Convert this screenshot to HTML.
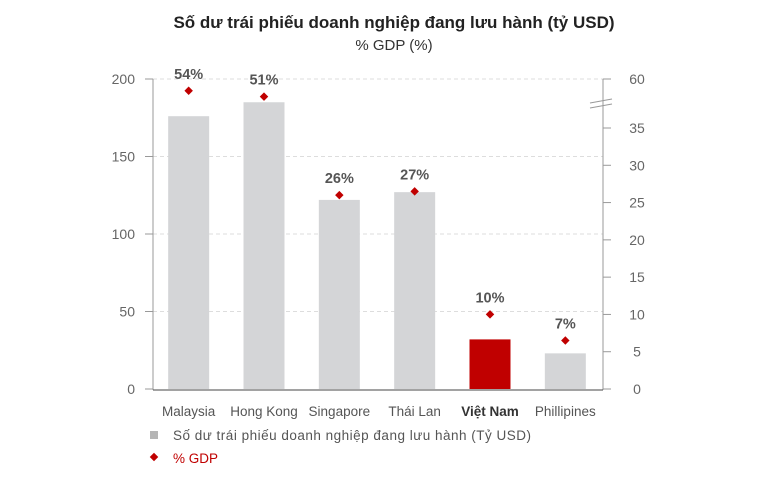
<!DOCTYPE html>
<html><head><meta charset="utf-8"><style>
body{margin:0;background:#fff;font-family:"Liberation Sans",sans-serif}
svg text{font-family:"Liberation Sans",sans-serif}
</style></head><body>
<svg id="chart" width="782" height="481" viewBox="0 0 782 481">
<text x="394" y="28" text-anchor="middle" font-size="17" font-weight="bold" fill="#222">Số dư trái phiếu doanh nghiệp đang lưu hành (tỷ USD)</text>
<text x="394" y="50" text-anchor="middle" font-size="15" fill="#333">% GDP (%)</text>
<g id="grid"></g><g id="bars"></g><g id="axes"></g><g id="points"></g>
<g>
<rect x="150" y="431" width="8" height="8" fill="#b5b5b5"/>
<text x="173" y="440" font-size="13.5" letter-spacing="0.5" fill="#555">Số dư trái phiếu doanh nghiệp đang lưu hành (Tỷ USD)</text>
<rect x="151" y="454" width="6" height="6" fill="#c00000" transform="rotate(45 154 457)"/>
<text x="173" y="463" font-size="13.5" fill="#c00000">% GDP</text>
</g>
</svg>
<script>
const categories=["Malaysia","Hong Kong","Singapore","Thái Lan","Việt Nam","Phillipines"];
const bondValues=[176,185,122,127,32,23];
const gdpValues=[54,51,26,26.5,10,6.5];
const gdpLabels=["54%","51%","26%","27%","10%","7%"];
const leftTicks=[0,50,100,150,200];
const rightTicks=[0,5,10,15,20,25,30,35,60];
const NS="http://www.w3.org/2000/svg";
const X0=151,X1=603,Y0=389,YTOP=79;
const band=(X1-X0)/categories.length;
const xC=i=>X0+band*(i+0.5);
const yL=v=>Y0-(Y0-YTOP)*v/200;
const yR=v=>v<=35?Y0-v*(Y0-128)/35:128-(v-35)*(128-YTOP)/25;
function mk(tag,attrs,parent,txt){const e=document.createElementNS(NS,tag);for(const k in attrs)e.setAttribute(k,attrs[k]);if(txt!==undefined)e.textContent=txt;document.getElementById(parent).appendChild(e);return e;}
leftTicks.forEach(t=>{const y=yL(t);
 if(t>0){const g=mk("line",{x1:153,x2:603,y1:y,y2:y,stroke:"#ddd","stroke-dasharray":"4,3"},"grid");
 
 }
 const tk=mk("line",{x1:145,x2:153,y1:y,y2:y,stroke:"#999"},"axes");
 
 
 const l=mk("text",{x:135,y:y+5,"text-anchor":"end","font-size":14,fill:"#666"},"axes",t);
 
 });
rightTicks.forEach(t=>{const y=yR(t);
 const tk=mk("line",{x1:603,x2:611,y1:y,y2:y,stroke:"#999"},"axes");
 
 
 const l=mk("text",{x:637,y:y+5,"text-anchor":"middle","font-size":14,fill:"#666"},"axes",t);
 
 });
[["line",{x1:153,x2:153,y1:YTOP,y2:Y0+1,stroke:"#999"},"left-axis"],["line",{x1:603,x2:603,y1:YTOP,y2:Y0+1,stroke:"#999"},"right-axis"],
 ["line",{x1:153,x2:603,y1:Y0+1,y2:Y0+1,stroke:"#444"},"x-axis"],
 ["line",{x1:590,x2:612,y1:103,y2:99,stroke:"#999"},"axis-break-1"],["line",{x1:590,x2:612,y1:108,y2:104,stroke:"#999"},"axis-break-2"]].forEach(a=>{
 const e=mk(a[0],a[1],"axes");
 
 });
categories.forEach((c,i)=>{const x=xC(i),vn=c==="Việt Nam";
 const b=mk("rect",{x:x-20.5,y:yL(bondValues[i]),width:41,height:Y0-yL(bondValues[i]),fill:vn?"#c00000":"#d4d5d7"},"bars");
 
 
 const l=mk("text",{x:x,y:416,"text-anchor":"middle","font-size":13.5,fill:vn?"#333":"#555","font-weight":vn?"bold":"normal"},"axes",c);
 
 
 const y=yR(gdpValues[i]);
 const p=mk("rect",{x:x-3,y:y-3,width:6,height:6,fill:"#c00000",transform:`rotate(45 ${x} ${y})`},"points");
 
 
 const v=mk("text",{x:x,y:y-12,"text-anchor":"middle","font-size":14.5,"font-weight":"bold",fill:"#555"},"points",gdpLabels[i]);
 
 });
</script>
</body></html>
